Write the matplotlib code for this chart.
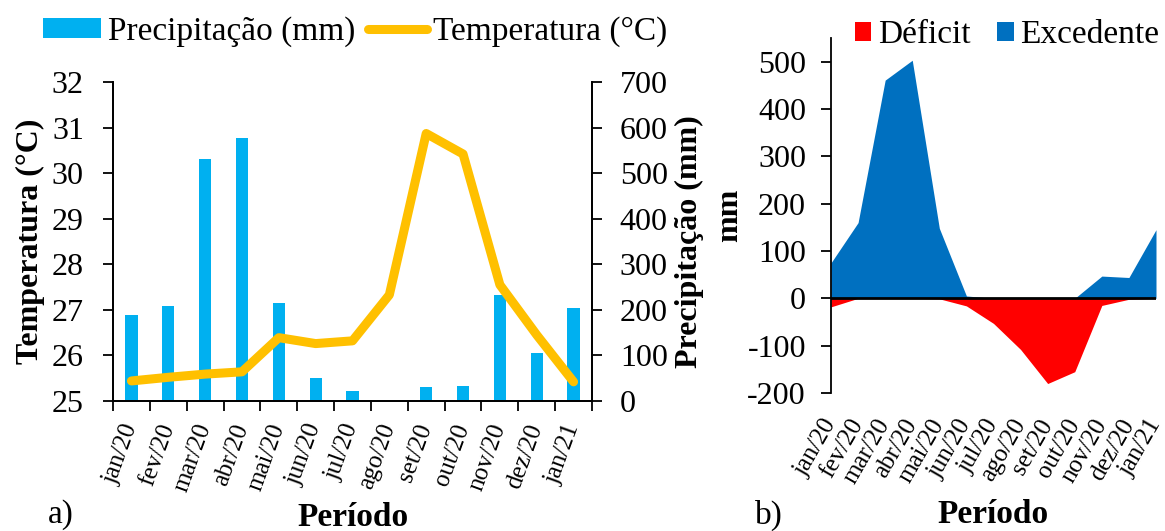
import matplotlib.pyplot as plt
import numpy as np

plt.rcParams['font.family'] = ['Liberation Serif', 'DejaVu Serif']
plt.rcParams['axes.unicode_minus'] = False

meses = ["jan/20", "fev/20", "mar/20", "abr/20", "mai/20", "jun/20", "jul/20",
         "ago/20", "set/20", "out/20", "nov/20", "dez/20", "jan/21"]
precipitacao = [189, 208, 530, 577, 214, 50, 21, 0, 30, 32, 232, 105, 204]
temperatura = [25.44, 25.52, 25.59, 25.64, 26.39, 26.26, 26.32, 27.33, 30.87,
               30.42, 27.55, 26.45, 25.42]
excedente = [75, 160, 461, 503, 148, 5, 0, 0, 0, 0, 47, 44, 145]
deficit = [-18, 0, 0, 0, -1, -16, -53, -108, -180, -155, -15, -2, 0]

azul_barra = "#00B0F0"
laranja = "#FFC000"
vermelho = "#FF0000"
azul = "#0070C0"

fig = plt.figure(figsize=(11.65, 5.31), dpi=100)

# ---- painel a ----
ax1 = fig.add_axes([113/1165, 1-401/531, (592-113)/1165, (401-82)/531])
ax2 = ax1.twinx()
x = np.arange(len(meses))
barras = ax2.bar(x, precipitacao, width=0.33, color=azul_barra, label="Precipitação (mm)")
linha, = ax1.plot(x, temperatura, color=laranja, lw=6.5, solid_capstyle='round',
                  label="Temperatura (°C)")
ax1.set_zorder(ax2.get_zorder() + 1)
ax1.patch.set_visible(False)

ax1.set_xlim(-0.5, len(meses) - 0.5)
ax1.set_ylim(25, 32)
ax2.set_ylim(0, 700)
ax1.set_yticks(range(25, 33))
ax2.set_yticks(range(0, 701, 100))
ax1.set_xticks(np.arange(-0.5, len(meses), 1.0))
ax1.set_xticklabels([])
ax1.set_xticks(x, minor=True)
ax1.set_xticklabels(meses, minor=True, rotation=70, ha='right', va='center',
                    rotation_mode='anchor', fontsize=18)
ax1.tick_params(axis='x', which='minor', length=0, pad=17)
ax1.tick_params(axis='x', which='major', length=7, width=1.3, direction='out')
ax1.tick_params(axis='y', labelsize=23, length=7, width=1.3, pad=14)
ax2.tick_params(axis='y', labelsize=23, length=7, width=1.3, pad=13)
for a in (ax1, ax2):
    a.spines['top'].set_visible(False)
    for s in ('left', 'right', 'bottom'):
        a.spines[s].set_linewidth(1.3)
ax1.set_ylabel("Temperatura (°C)", fontsize=23, fontweight='bold', labelpad=5)
ax2.set_ylabel("Precipitação (mm)", fontsize=23, fontweight='bold', labelpad=5)
ax1.set_xlabel("Período", fontsize=24, fontweight='bold', labelpad=5)
fig.legend([barras, linha], ["Precipitação (mm)", "Temperatura (°C)"],
           loc='center', bbox_to_anchor=(355/1165, 1-32/531), ncol=2, frameon=False,
           fontsize=24, handlelength=1.75, handleheight=0.55, columnspacing=0.4,
           handletextpad=0.2)
fig.text(48/1165, 1-515/531, "a)", fontsize=24, va='center')

# ---- painel b ----
ax3 = fig.add_axes([831/1165, 1-393/531, (1156-831)/1165, (393-38)/531])
ax3.fill_between(x, deficit, 0, color=vermelho, lw=0, label="Déficit")
ax3.fill_between(x, excedente, 0, color=azul, lw=0, label="Excedente")
ax3.axhline(0, color='black', lw=2)
ax3.set_xlim(0, len(meses) - 1)
ax3.set_ylim(-200, 550)
ax3.set_yticks(range(-200, 501, 100))
ax3.set_xticks(x)
ax3.set_xticklabels(meses, rotation=60, ha='right', va='center',
                    rotation_mode='anchor', fontsize=18)
ax3.tick_params(axis='x', length=0, pad=20)
ax3.tick_params(axis='y', labelsize=23, length=7, width=1.3, pad=11)
for s in ('top', 'right', 'bottom'):
    ax3.spines[s].set_visible(False)
ax3.spines['left'].set_linewidth(1.3)
ax3.set_ylabel("mm", fontsize=23, fontweight='bold', labelpad=2)
ax3.set_xlabel("Período", fontsize=24, fontweight='bold', labelpad=8)
ax3.legend(loc='center', bbox_to_anchor=(1007/1165, 1-35/531),
           bbox_transform=fig.transFigure, ncol=2, frameon=False, fontsize=24,
           handlelength=0.5, handleheight=0.5, columnspacing=0.8,
           handletextpad=0.2)
fig.text(755/1165, 1-515/531, "b)", fontsize=24, va='center')

fig.savefig("out.png", dpi=100)
